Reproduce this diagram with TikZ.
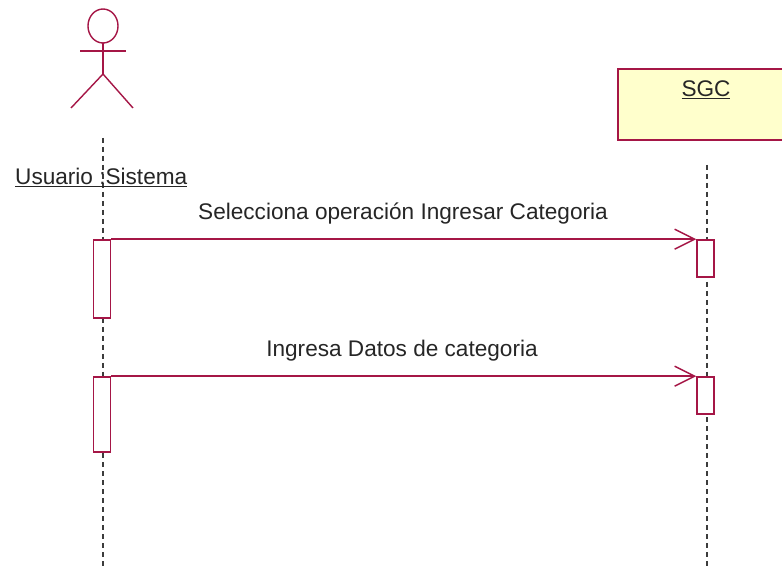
\documentclass[tikz,border=0pt]{standalone}
\usepackage{fontspec}
\setmainfont{Liberation Sans}
\usetikzlibrary{arrows.meta}
\definecolor{umlred}{RGB}{165,22,70}
\definecolor{umlyellow}{RGB}{255,255,204}
\definecolor{lifegray}{RGB}{60,60,60}
\tikzset{
  txt/.style={inner sep=0pt, anchor=base, font=\fontsize{22.6}{27}\selectfont, text=black!85},
  actbox/.style={draw=umlred, line width=1.6pt, fill=white, minimum width=17pt, inner sep=0pt},
  lifeline/.style={draw=lifegray, line width=1.8pt, dash pattern=on 5pt off 4pt},
  msg/.style={draw=umlred, line width=1.6pt, -{Straight Barb[length=20pt,width=20pt,line width=1.4pt]}},
  stick/.style={draw=umlred, line width=1.4pt},
  objbox/.style={draw=umlred, line width=1.6pt, fill=umlyellow}
}
\begin{document}
\begin{tikzpicture}[x=1pt,y=-1pt]
\clip (0,0) rectangle (782,569);
\fill[white] (0,0) rectangle (782,569);
% actor
\draw[stick] (103,26) ellipse [x radius=15, y radius=17];
\coordinate (neck) at (103,43);
\coordinate (hip) at (103,74);
\draw[stick] (neck) -- (hip);
\draw[stick] (80,51) -- (126,51);
\draw[stick] (71,108) -- (hip) -- (133,108);
% SGC object
\node[objbox, minimum width=178pt, minimum height=71pt, inner sep=0pt] (sgc) at (707,104.5) {};
\node[txt, anchor=base] (sgclabel) at (706,97) {\underline{SGC}};
% lifelines
\coordinate (lt) at (103,138);
\coordinate (lb) at (103,566);
\coordinate (rt) at (707,165);
\coordinate (rb) at (707,566);
\draw[lifeline] (lt) -- (lb);
\draw[lifeline] (rt) -- (rb);
% actor label
\node[txt, anchor=base west] (actlabel) at (15,185) {\underline{Usuario :Sistema}};
% activation boxes
\node[actbox, minimum height=78pt] (a1) at (102,279) {};
\node[actbox, minimum height=75pt] (a2) at (102,414.5) {};
\node[actbox, minimum height=37pt] (b1) at (705.5,258.5) {};
\node[actbox, minimum height=37pt] (b2) at (705.5,395.5) {};
% messages
\draw[msg] (a1.north east) -- (b1.north west);
\draw[msg] (a2.north east) -- (b2.north west);
\node[txt] (m1) at (403,220) {Selecciona operación Ingresar Categoria};
\node[txt] (m2) at (402,356) {Ingresa Datos de categoria};
\end{tikzpicture}
\end{document}
